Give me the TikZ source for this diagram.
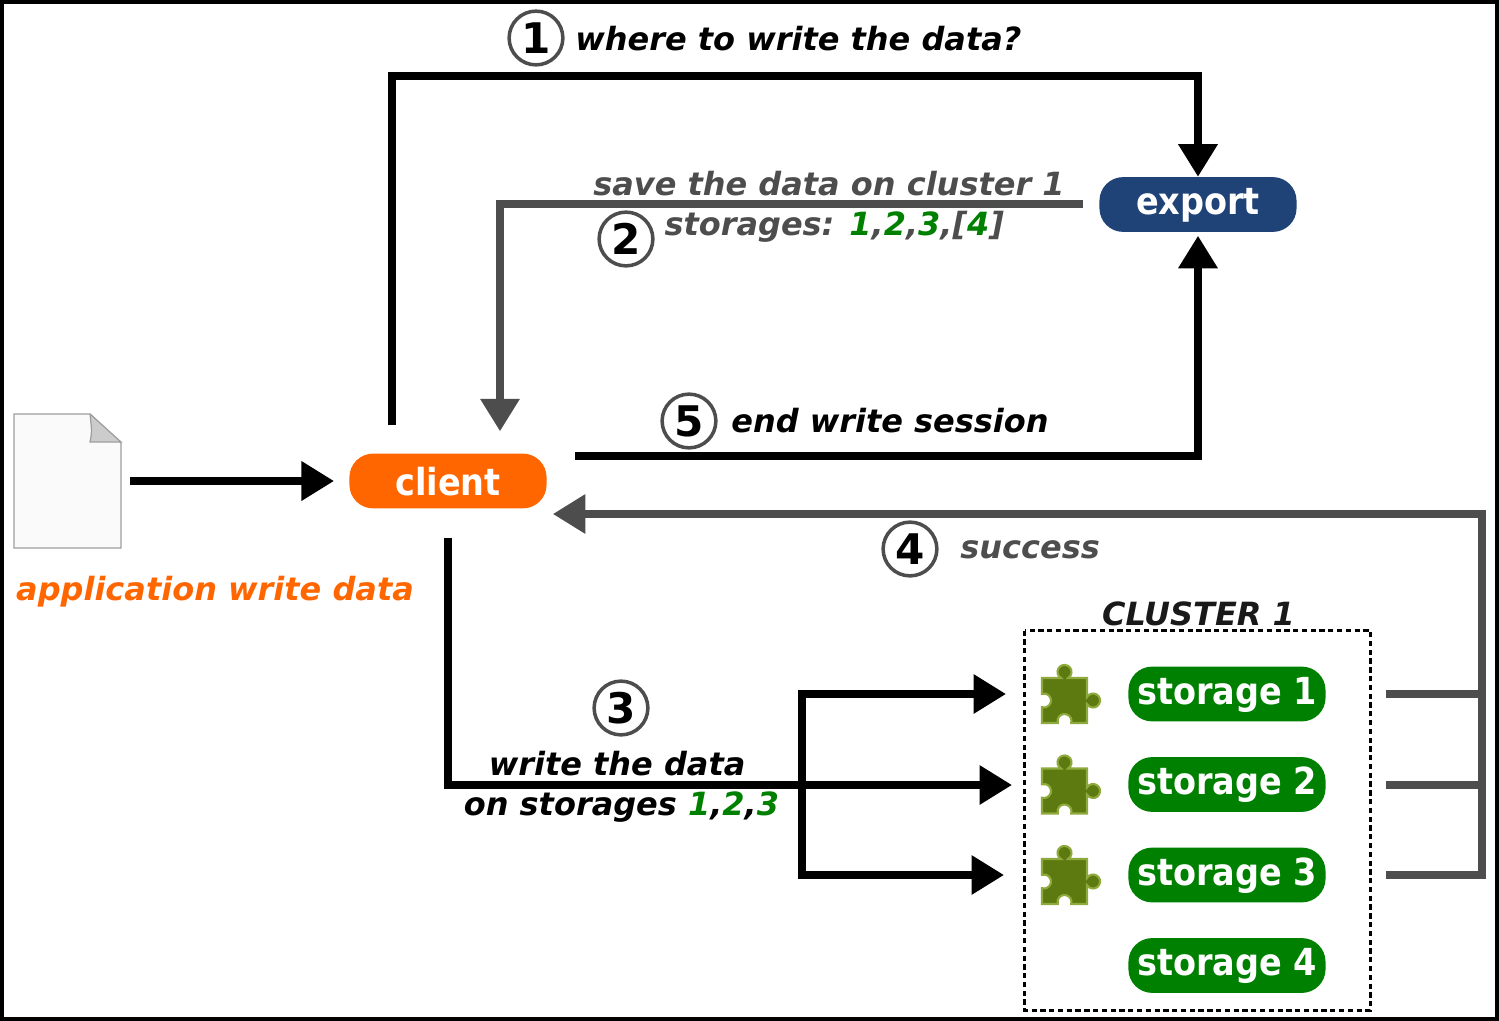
\documentclass[tikz,border=0pt]{standalone}
\usepackage{fontspec}
\setmainfont{DejaVu Sans}
\newfontfamily\condfont{DejaVu Sans Condensed}
\usetikzlibrary{arrows.meta, positioning}
\definecolor{okgreen}{HTML}{008000}
\definecolor{flowgray}{HTML}{4D4D4D}
\definecolor{clientorange}{HTML}{FF6600}
\definecolor{exportblue}{HTML}{1F4277}
\definecolor{piecegreen}{HTML}{5C7A10}
\definecolor{pieceedge}{HTML}{8FAA3C}

\begin{document}
\begin{tikzpicture}[x=0.02cm, y=-0.02cm,
  pill/.style={rectangle, rounded corners=13.5pt, minimum width=112.2pt, minimum height=31.2pt,
    inner sep=0pt, text=white, font=\condfont\bfseries\fontsize{21.2}{21.2}\selectfont,
    text height=15.5pt, text depth=4.5pt},
  stepmark/.style={draw=flowgray, circle, line width=2pt, fill=white, minimum size=30.6pt, inner sep=0pt,
    font=\bfseries\fontsize{24}{24}\selectfont},
  caption/.style={inner sep=0pt, align=center, font=\bfseries\itshape\fontsize{18.2}{22.7}\selectfont},
  flow/.style={line width=4.2pt, -{Triangle[length=18.5pt,width=21.5pt]}},
  bothflow/.style={line width=4.2pt, {Triangle[length=18.5pt,width=21.5pt]}-{Triangle[length=18.5pt,width=21.5pt]}},
  bar/.style={line width=4.2pt},
  puzzle/.pic={
    \draw[fill=piecegreen, draw=pieceedge, line width=1.2pt]
      (0,0) -- (19,0) arc (120:420:7) -- (45,0) -- (45,19) arc (210:510:7) -- (45,45)
      -- (29.2,45) arc (16.6:-196.6:7) -- (0,45) -- (0,29.2) arc (106.6:-106.6:7) -- cycle;
  }
]
\useasboundingbox (0,0) rectangle (1499,1021);
\draw[line width=2.4pt] (2,2) rectangle (1497,1019);

% page icon
\draw[fill=black!2, draw=black!38, line width=0.7pt] (14,414) -- (90,414) -- (121,443) -- (121,548) -- (14,548) -- cycle;
\draw[fill=black!20, draw=black!38, line width=0.7pt] (90,414) -- (121,442) -- (90,442) .. controls (92,432) .. (90,414);
\coordinate (pageout) at (130,481);

\node[pill, fill=clientorange, text depth=0pt] (client) at (448,481) {\raisebox{-0.6pt}{client}};
\node[pill, fill=exportblue] (export) at (1198,204.5) {export};

\draw[line width=1.7pt, densely dashed] (1024.5,630.5) rectangle (1370.5,1010);
\node[pill, fill=okgreen] (st1) at (1227,694) {\raisebox{-0.4pt}{storage 1}};
\node[pill, fill=okgreen] (st2) at (1227,784.5) {\raisebox{-0.4pt}{storage 2}};
\node[pill, fill=okgreen] (st3) at (1227,875) {\raisebox{-0.4pt}{storage 3}};
\node[pill, fill=okgreen] (st4) at (1227,965.5) {storage 4};
\pic at (1042,678) {puzzle};
\pic at (1042,768.5) {puzzle};
\pic at (1042,859) {puzzle};

\coordinate (askcorner) at (392,76);
\coordinate (savestart) at (1083,204);
\coordinate (savecorner) at (500,204);
\coordinate (endcorner) at (1198,456);
\coordinate (okcorner) at (1482,514);
\coordinate (okbottom) at (1482,875);
\coordinate (wrcorner) at (448,785);
\coordinate (wrjoin) at (802,785);
\coordinate (st1in) at (1006,694);
\coordinate (st2in) at (1012,785);
\coordinate (st3in) at (1004,875);

\draw[flow] (pageout) -- (client.west -| 334,0);
\draw[flow, shorten <=15.9pt] (client.north -| askcorner) -- (askcorner) -| (export.north);
\draw[flow, flowgray, shorten >=12.5pt] (savestart) -- (savecorner) -- (client.north -| savecorner);
\draw[flow, shorten <=15.9pt, shorten >=2pt] (client.east |- endcorner) -- (endcorner) -- (export.south);
\draw[flow, flowgray, shorten >=3.4pt, shorten <=34pt] (st3.east |- okbottom) -- (okbottom) -- (okcorner) -- (client.east |- okcorner);
\draw[bar, flowgray, shorten >=34pt] (okcorner |- st2in) -- (st2.east |- st2in);
\draw[bar, flowgray, shorten >=34pt] (okcorner |- st1in) -- (st1.east |- st1in);
\draw[flow, shorten <=16.4pt] (client.south) -- (wrcorner) -- (st2in);
\draw[bothflow] (st1in) -- (wrjoin |- st1in) -- (wrjoin |- st3in) -- (st3in);

\node[stepmark] (mark1) at (536,38) {1};
\node[stepmark] (mark2) at (626,239) {2};
\node[stepmark] (mark3) at (621,708) {3};
\node[stepmark] (mark4) at (910,549) {4};
\node[stepmark] (mark5) at (689,421) {5};

\node[caption, anchor=west] (asklabel) at (575,39) {where to write the data?};
\node[caption, text=flowgray] (savelabel) at (829,207) {save the data on cluster 1\\\hspace*{6pt}storages: \textcolor{okgreen}{1},\textcolor{okgreen}{2},\textcolor{okgreen}{3},[\textcolor{okgreen}{4}]};
\node[caption, anchor=west] (endlabel) at (731,420.5) {end write session};
\node[caption, anchor=west, text=flowgray] (oklabel) at (960,550) {success};
\node[caption, text=black!90] (clusterlabel) at (1198.5,614) {CLUSTER 1};
\node[caption] (wrlabel) at (621.5,787) {write the data\hspace*{5pt}\\on storages \textcolor{okgreen}{1},\textcolor{okgreen}{2},\textcolor{okgreen}{3}};
\node[caption, text=clientorange] (applabel) at (215,592) {application write data};
\end{tikzpicture}
\end{document}
